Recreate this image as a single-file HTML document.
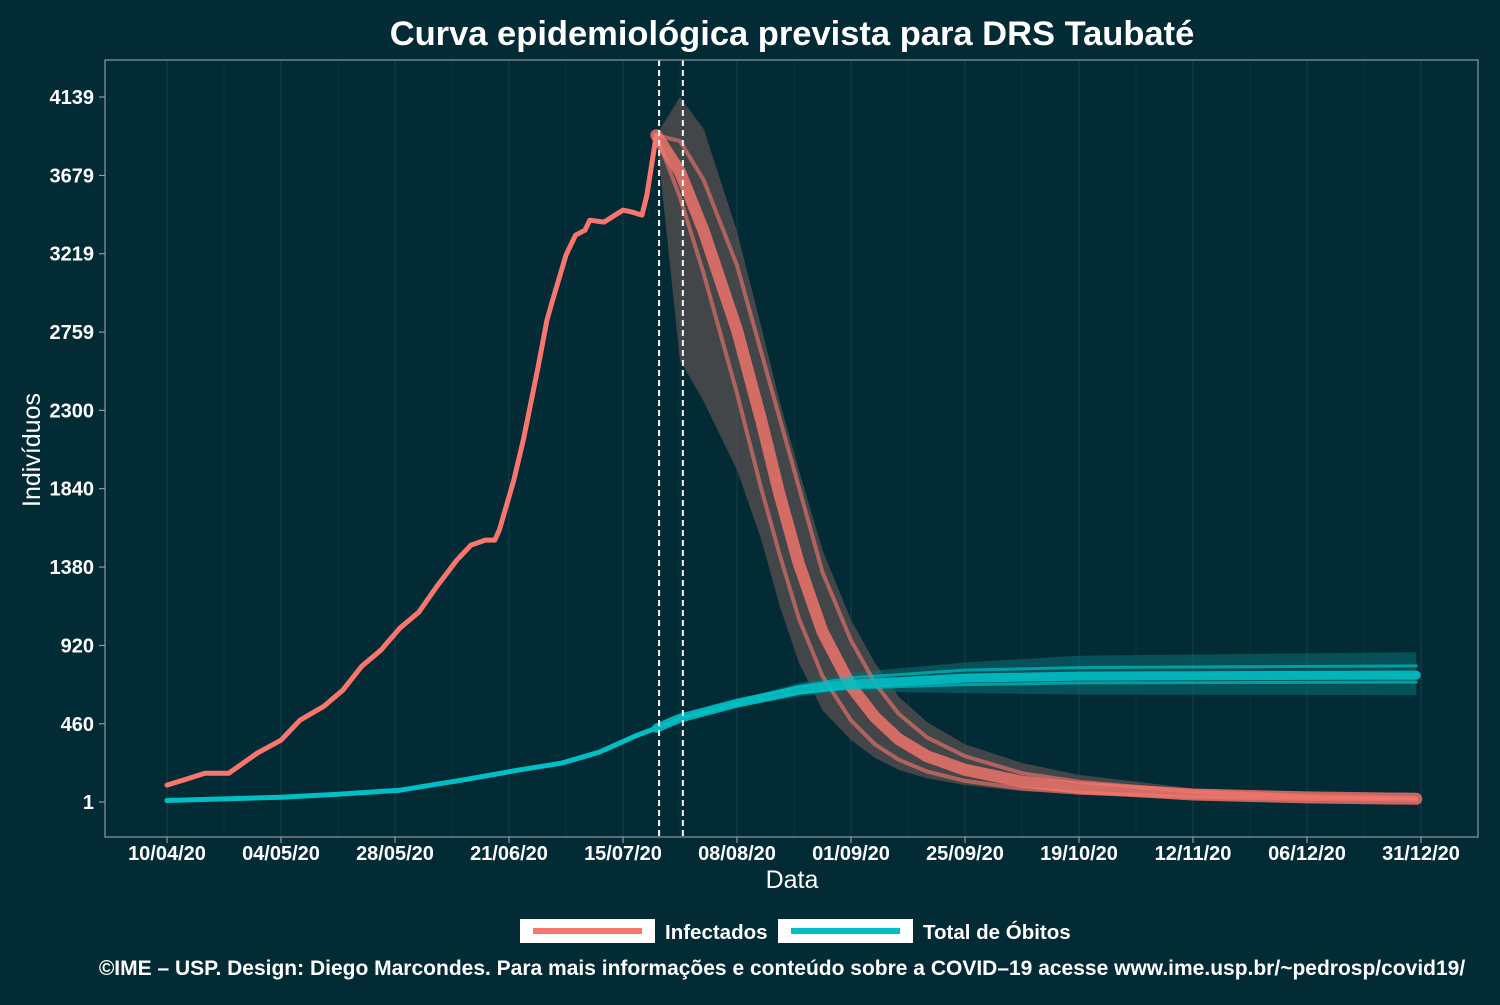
<!DOCTYPE html>
<html><head><meta charset="utf-8"><style>
html,body{margin:0;padding:0;background:#022b36;}
svg text{font-family:"Liberation Sans",sans-serif;}
</style></head><body>
<svg id="chart" width="1500" height="1000" viewBox="0 0 1500 1000" xmlns="http://www.w3.org/2000/svg">
<rect width="1500" height="1000" fill="#022b36"/>
<text x="792" y="45" text-anchor="middle" font-size="34.5" font-weight="bold" fill="#fff">Curva epidemiológica prevista para DRS Taubaté</text>
<g id="grid"></g>
<g id="bands"></g>
<g id="lines"></g>
<g id="axes"></g>
<text x="40" y="450" text-anchor="middle" font-size="25" fill="#fff" transform="rotate(-90 40 450)">Indivíduos</text>
<text x="792" y="888" text-anchor="middle" font-size="25" fill="#fff">Data</text>
<g>
<g>
<rect x="520" y="919" width="135" height="24" fill="#fff"/>
<line x1="533" y1="931" x2="642" y2="931" stroke="#f8766d" stroke-width="6"/>
<text x="665" y="939" font-size="20.5" font-weight="bold" fill="#fff">Infectados</text></g>
<g>
<rect x="778" y="919" width="135" height="24" fill="#fff"/>
<line x1="791" y1="931" x2="900" y2="931" stroke="#00bfc4" stroke-width="6"/>
<text x="923" y="939" font-size="20.5" font-weight="bold" fill="#fff">Total de Óbitos</text></g>
</g>
<text x="782" y="975" text-anchor="middle" font-size="21" font-weight="bold" fill="#fff">©IME – USP. Design: Diego Marcondes. Para mais informações e conteúdo sobre a COVID–19 acesse www.ime.usp.br/~pedrosp/covid19/</text>
</svg>
<script>
const xTickDays=[0,24,48,72,96,120,144,168,192,216,240,264];
const xTickLabels=["10/04/20","04/05/20","28/05/20","21/06/20","15/07/20","08/08/20","01/09/20","25/09/20","19/10/20","12/11/20","06/12/20","31/12/20"];
const yTicks=[1,460,920,1380,1840,2300,2759,3219,3679,4139];
const infDays=[0,4,8,13,19,24,28,33,37,41,45,49,53,57,61,64,67,69,70,73,75,78,80,81,84,86,88,89,92,94,96,98,100,101,103];
const infVals=[100,135,170,170,288,364,481,563,657,798,892,1021,1115,1274,1420,1509,1538,1538,1600,1890,2125,2536,2830,2930,3211,3328,3357,3416,3405,3440,3475,3463,3446,3560,3915];
const projDays=[103,108,113,120,125,129,133,138,144,149,154,160,168,180,192,216,240,263];
const projCentral=[3915,3700,3350,2770,2250,1800,1400,1000,680,500,370,270,190,120,85,45,28,20];
const projEarly=[3915,3550,3100,2400,1850,1450,1080,740,480,340,250,180,125,80,55,30,20,15];
const projLate=[3915,3880,3650,3150,2650,2250,1850,1350,950,700,520,380,270,170,120,60,35,24];
const projUpper=[3915,4139,3950,3350,2800,2350,1950,1480,1069,820,620,470,340,230,160,80,45,30];
const projLower=[3915,2595,2350,1950,1550,1150,820,540,365,260,190,140,100,65,45,25,15,12];
const deathDays=[0,24,36,49,62,74,83,91,99,103];
const deathVals=[10,29,47,70,129,188,229,294,393,434];
const dProjDays=[103,108,120,133,144,168,192,263];
const dProjCentral=[434,493,581,657,693,728,740,746];
const dProjUpper=[434,500,600,700,760,820,860,880];
const dProjLower=[434,486,560,620,650,640,632,628];
const dProjHigh=[434,495,590,680,730,775,790,800];
const dProjLow=[434,490,572,640,670,690,700,705];
const vlineDays=[103.6,108.6];

const NS="http://www.w3.org/2000/svg";
const X=d=>167+d*4.75;
const Y=v=>802-(v-1)*705/4138;
function mk(tag,attrs,parent){const e=document.createElementNS(NS,tag);for(const k in attrs)e.setAttribute(k,attrs[k]);parent.appendChild(e);return e;}
const grid=document.getElementById('grid'),axes=document.getElementById('axes'),bands=document.getElementById('bands'),lines=document.getElementById('lines');
xTickDays.forEach((d,i)=>{
 const g=mk('line',{x1:X(d),x2:X(d),y1:60,y2:837,stroke:'#153c47','stroke-width':1.2},grid);
 
 
 if(i<xTickDays.length-1){const m=mk('line',{x1:X(d+12),x2:X(d+12),y1:60,y2:837,stroke:'#0d3440','stroke-width':1},grid);
 
 }
 mk('line',{x1:X(d),x2:X(d),y1:837,y2:843,stroke:'#aab',"stroke-width":1},axes);
 const t=mk('text',{x:X(d),y:860,'text-anchor':'middle','font-size':20,'font-weight':'bold',fill:'#fff'},axes);
 t.textContent=xTickLabels[i];
 
 
});
yTicks.forEach(v=>{
 mk('line',{x1:99,x2:105,y1:Y(v),y2:Y(v),stroke:'#aab'},axes);
 const t=mk('text',{x:94,y:Y(v)+7,'text-anchor':'end','font-size':20,'font-weight':'bold',fill:'#fff'},axes);
 t.textContent=v;
 
 
});
mk('rect',{x:105,y:60,width:1373,height:777,fill:'none',stroke:'#8a9ca3','stroke-width':1.2},axes);
const pts=(ds,vs)=>ds.map((d,i)=>X(d).toFixed(1)+','+Y(vs[i]).toFixed(1)).join(' ');
function band(ds,up,lo,fill,op,name){
 const p=mk('polygon',{points:pts(ds,up)+' '+pts(ds.slice().reverse(),lo.slice().reverse()),fill:fill,opacity:op},bands);
 
 
}
band(projDays,projUpper,projLower,'#5a5050',0.75,'infected-projection-band');
band(dProjDays,dProjUpper,dProjLower,'#0a6a70',0.6,'deaths-projection-band');
function line(ds,vs,col,w,op,name){
 const p=mk('polyline',{points:pts(ds,vs),fill:'none',stroke:col,'stroke-width':w,opacity:op,'stroke-linejoin':'round','stroke-linecap':'round'},lines);
 
 
}
line(projDays,projEarly,'#f8766d',4,0.6,'infected-scenario-early');
line(projDays,projLate,'#f8766d',4,0.6,'infected-scenario-late');
line(projDays,projCentral,'#f8766d',12,0.8,'infected-scenario-central');
line(dProjDays,dProjHigh,'#00bfc4',3,0.7,'deaths-scenario-high');
line(dProjDays,dProjLow,'#00bfc4',3,0.7,'deaths-scenario-low');
line(dProjDays,dProjCentral,'#00bfc4',9,0.9,'deaths-scenario-central');
line(infDays,infVals,'#f8766d',5,1,'infected-observed-line');
line(deathDays,deathVals,'#00bfc4',5,1,'deaths-observed-line');
vlineDays.forEach(d=>{
 const l=mk('line',{x1:X(d),x2:X(d),y1:60,y2:837,stroke:'#fff','stroke-width':2,'stroke-dasharray':'6,4'},lines);
 
 
});
</script>
</body></html>
